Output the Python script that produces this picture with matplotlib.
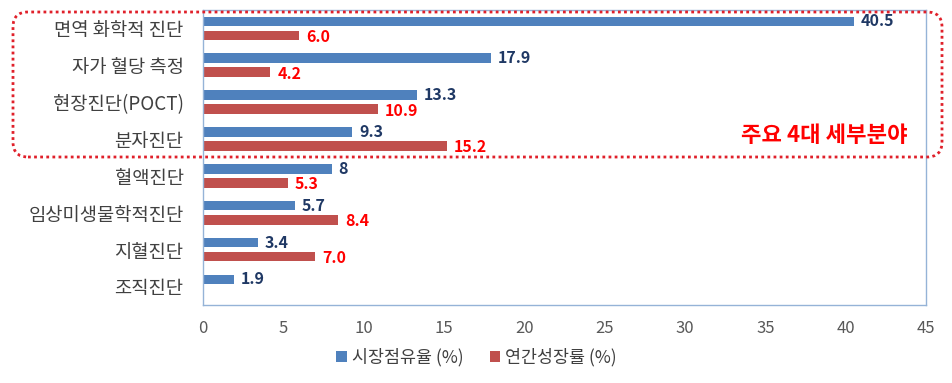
import numpy as np
import matplotlib
matplotlib.use("Agg")
import matplotlib.pyplot as plt
from matplotlib.patches import FancyBboxPatch

plt.rcParams['font.family'] = ['Noto Sans CJK KR', 'DejaVu Sans']

categories = ['면역 화학적 진단', '자가 혈당 측정', '현장진단(POCT)', '분자진단',
              '혈액진단', '임상미생물학적진단', '지혈진단', '조직진단']
share = [40.5, 17.9, 13.3, 9.3, 8, 5.7, 3.4, 1.9]
share_labels = ['40.5', '17.9', '13.3', '9.3', '8', '5.7', '3.4', '1.9']
growth = [6.0, 4.2, 10.9, 15.2, 5.3, 8.4, 7.0, np.nan]
growth_labels = ['6.0', '4.2', '10.9', '15.2', '5.3', '8.4', '7.0', '']
series_names = ['시장점유율 (%)', '연간성장률 (%)']

blue = '#4F81BD'
red = '#C0504D'

fig = plt.figure(figsize=(9.53, 3.83), dpi=100)
ax = fig.add_axes([0.213, 0.204, 0.7587, 0.770])

y = np.arange(len(categories))
off = 0.19
h = 0.26
ax.barh(y - off, share, height=h, color=blue, label=series_names[0])
ax.barh(y + off, growth, height=h, color=red, label=series_names[1])

for yi, v, s in zip(y, share, share_labels):
    ax.annotate(s, (v, yi - off), xytext=(5, 0), textcoords='offset points',
                va='center', ha='left', fontsize=11.5, fontweight='bold', color='#1F3864')
for yi, v, s in zip(y, growth, growth_labels):
    if s:
        ax.annotate(s, (v, yi + off), xytext=(5, -1), textcoords='offset points',
                    va='center', ha='left', fontsize=11.5, fontweight='bold', color='#FF0000')

ax.set_xlim(0, 45)
ax.set_xticks(range(0, 46, 5))
ax.set_ylim(len(categories) - 0.5, -0.5)
ax.set_yticks(y)
ax.set_yticklabels(categories, fontsize=13.5, color='#404040')
ax.tick_params(axis='x', labelsize=12, labelcolor='#595959', length=0, pad=11)
ax.tick_params(axis='y', length=0, pad=14)
for sp in ax.spines.values():
    sp.set_color('#95B3D7')
    sp.set_linewidth(1)

# dotted highlight box around the top four categories
box = FancyBboxPatch((0.13, 2.26), 9.29, 1.45, boxstyle='round,pad=0,rounding_size=0.15',
                     transform=fig.dpi_scale_trans, fill=False, edgecolor='#E0202A',
                     linestyle=(0, (1, 1.2)), linewidth=2)
fig.patches.append(box)
fig.text(824 / 953, 1 - 136 / 383, '주요 4대 세부분야', ha='center', va='center',
         fontsize=16, fontweight='bold', color='#FF0000')

fig.legend(loc='center', bbox_to_anchor=(0.5, 1 - 357 / 383), ncol=2, frameon=False,
           fontsize=12.5, handlelength=0.6, handleheight=0.6, columnspacing=1.5,
           handletextpad=0.3, labelcolor='#404040')

fig.savefig('out.png', dpi=100)
